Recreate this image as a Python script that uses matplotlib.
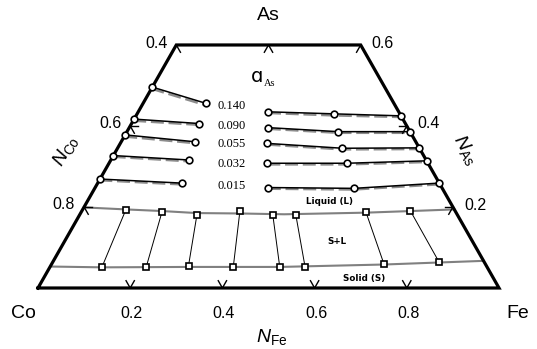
import numpy as np
import matplotlib
matplotlib.use("Agg")
import matplotlib.pyplot as plt

plt.rcParams['mathtext.fontset'] = 'custom'
plt.rcParams['mathtext.it'] = 'Liberation Sans:italic'
plt.rcParams['mathtext.rm'] = 'Liberation Sans'

# iso-activity lines of As, compositions as (N_Fe, N_As)
activities = ["0.140", "0.090", "0.055", "0.032", "0.015"]

leftTieFe = [[0.000, 0.136], [0.000, 0.147], [0.000, 0.160], [0.000, 0.170], [0.000, 0.182]]
leftTieAs = [[0.496, 0.456], [0.417, 0.406], [0.378, 0.361], [0.327, 0.316], [0.269, 0.259]]
rightTieFe = [[0.281, 0.426, 0.575], [0.300, 0.458, 0.614], [0.319, 0.488, 0.654], [0.343, 0.516, 0.686], [0.374, 0.562, 0.741]]
rightTieAs = [[0.435, 0.430, 0.425], [0.396, 0.386, 0.386], [0.357, 0.345, 0.346], [0.308, 0.308, 0.314], [0.248, 0.246, 0.259]]

# calculated lines (dashed)
calcLeftFe = [[0.000, 0.132], [0.000, 0.143], [0.000, 0.156], [0.000, 0.166], [0.000, 0.178]]
calcLeftAs = [[0.492, 0.453], [0.413, 0.403], [0.374, 0.358], [0.324, 0.313], [0.266, 0.256]]
calcRightFe = [[0.283, 0.427, 0.578], [0.302, 0.459, 0.617], [0.321, 0.489, 0.657], [0.345, 0.517, 0.689], [0.376, 0.563, 0.744]]
calcRightAs = [[0.432, 0.426, 0.422], [0.393, 0.383, 0.383], [0.354, 0.342, 0.343], [0.305, 0.305, 0.311], [0.245, 0.243, 0.256]]

# liquidus and solidus boundaries
liqFe = [0.000, 0.094, 0.174, 0.252, 0.346, 0.443, 0.618, 0.714, 0.806]
liqAs = [0.199, 0.194, 0.190, 0.185, 0.184, 0.182, 0.186, 0.190, 0.194]
solFe = [0.000, 0.114, 0.300, 0.499, 0.722, 0.933]
solAs = [0.053, 0.051, 0.052, 0.052, 0.058, 0.067]

# solid-liquid tie lines
tieLiqFe = [0.094, 0.175, 0.255, 0.343, 0.420, 0.470, 0.618, 0.713]
tieLiqAs = [0.193, 0.188, 0.179, 0.190, 0.179, 0.179, 0.187, 0.190]
tieSolFe = [0.113, 0.209, 0.299, 0.398, 0.499, 0.554, 0.721, 0.839]
tieSolAs = [0.051, 0.051, 0.055, 0.051, 0.051, 0.051, 0.059, 0.063]

tickValues = [0.2, 0.4, 0.6, 0.8]
topTicks = [0.0, 0.2, 0.4]
asMax = 0.6

def toXY(fe, asv):
	fe = np.asarray(fe, dtype=float)
	asv = np.asarray(asv, dtype=float)
	return fe + asv/2, asv*np.sqrt(3)/2

def pix(x, y):
	return x/537, 1 - y/349

fig = plt.figure(figsize=(5.37, 3.49), dpi=100)
ax = fig.add_axes([0, 0, 1, 1])
ax.set_xlim(-38/461, 499/461)
ax.set_ylim((288-349)/467.7, 288/467.7)
ax.axis('off')

grey = '#808080'

# boundaries
x, y = toXY(liqFe, liqAs)
ax.plot(x, y, color=grey, lw=1.5, zorder=2)
x, y = toXY(solFe, solAs)
ax.plot(x, y, color=grey, lw=1.5, zorder=2)

for i in range(len(tieLiqFe)):
	x, y = toXY([tieLiqFe[i], tieSolFe[i]], [tieLiqAs[i], tieSolAs[i]])
	ax.plot(x, y, color='black', lw=0.7, zorder=3)
x, y = toXY(tieLiqFe + tieSolFe, tieLiqAs + tieSolAs)
ax.plot(x, y, 's', ms=5, mfc='white', mec='black', mew=1.2, zorder=6)

# iso-activity lines
for i in range(len(activities)):
	for fe, asv in [(calcLeftFe[i], calcLeftAs[i]), (calcRightFe[i], calcRightAs[i])]:
		x, y = toXY(fe, asv)
		ax.plot(x, y, color='#8c8c8c', lw=1.7, dashes=(5.5, 2), zorder=2)
	for fe, asv in [(leftTieFe[i], leftTieAs[i]), (rightTieFe[i], rightTieAs[i])]:
		x, y = toXY(fe, asv)
		ax.plot(x, y, color='black', lw=1.1, zorder=3)
		ax.plot(x, y, 'o', ms=4.8, mfc='white', mec='black', mew=1.2, zorder=6)

# frame
x, y = toXY([0, 1, 1-asMax, 0, 0], [0, 0, asMax, asMax, 0])
ax.plot(x, y, color='black', lw=2.3, solid_joinstyle='miter', zorder=5)

def chevron(fe, asv, angles, L=0.018):
	x0, y0 = toXY(fe, asv)
	for a in angles:
		t = np.radians(a)
		ax.plot([x0, x0 + L*np.cos(t)], [y0, y0 + L*np.sin(t)], color='black', lw=1.0, zorder=5)

for v in tickValues:
	chevron(v, 0, [60, 120])
for v in topTicks:
	chevron(v, asMax, [240, 300])
for v in [0.4, 0.2]:
	chevron(0, v, [0, 300])
	chevron(1-v, v, [180, 240])

sans = 'Liberation Sans'
tickFont = dict(family=sans, fontsize=11.5, ha='center', va='center', transform=fig.transFigure)
for v, px in zip(tickValues, [131, 224, 316, 409]):
	fig.text(*pix(px, 313), "%.1f" % v, **tickFont)
fig.text(*pix(157, 44), "0.4", **tickFont)
fig.text(*pix(382, 43), "0.6", **tickFont)
fig.text(*pix(110, 124), "0.6", **tickFont)
fig.text(*pix(64, 204), "0.8", **tickFont)
fig.text(*pix(429, 124), "0.4", **tickFont)
fig.text(*pix(475, 205), "0.2", **tickFont)

cornerFont = dict(family=sans, fontsize=14, ha='center', va='center', transform=fig.transFigure)
fig.text(*pix(268, 16), "As", **cornerFont)
fig.text(*pix(23, 314), "Co", **cornerFont)
fig.text(*pix(518, 313), "Fe", **cornerFont)
fig.text(*pix(272, 337), r"$N_{\mathrm{Fe}}$", **cornerFont)
fig.text(*pix(66, 151), r"$N_{\mathrm{Co}}$", rotation=60, rotation_mode='anchor', **cornerFont)
fig.text(*pix(466, 150), r"$N_{\mathrm{As}}$", rotation=-60, rotation_mode='anchor', **cornerFont)

# activity labels
fig.text(*pix(257, 77), "\u0251", family='DejaVu Sans', fontsize=14, ha='center', va='center', transform=fig.transFigure)
fig.text(*pix(270, 84), "As", family='Liberation Serif', fontsize=7.5, ha='center', va='center', transform=fig.transFigure)
for lab, py in zip(activities, [106, 125.5, 144.5, 163.5, 186]):
	fig.text(*pix(232, py), lab, family='Liberation Serif', fontsize=9, ha='center', va='center', transform=fig.transFigure)

regionFont = dict(family='DejaVu Sans', fontsize=6.3, weight='bold', ha='center', va='center', transform=fig.transFigure)
fig.text(*pix(329, 202), "Liquid (L)", **regionFont)
fig.text(*pix(337, 241.5), "S+L", **regionFont)
fig.text(*pix(364, 278), "Solid (S)", **regionFont)

fig.savefig("out.png", dpi=100)
